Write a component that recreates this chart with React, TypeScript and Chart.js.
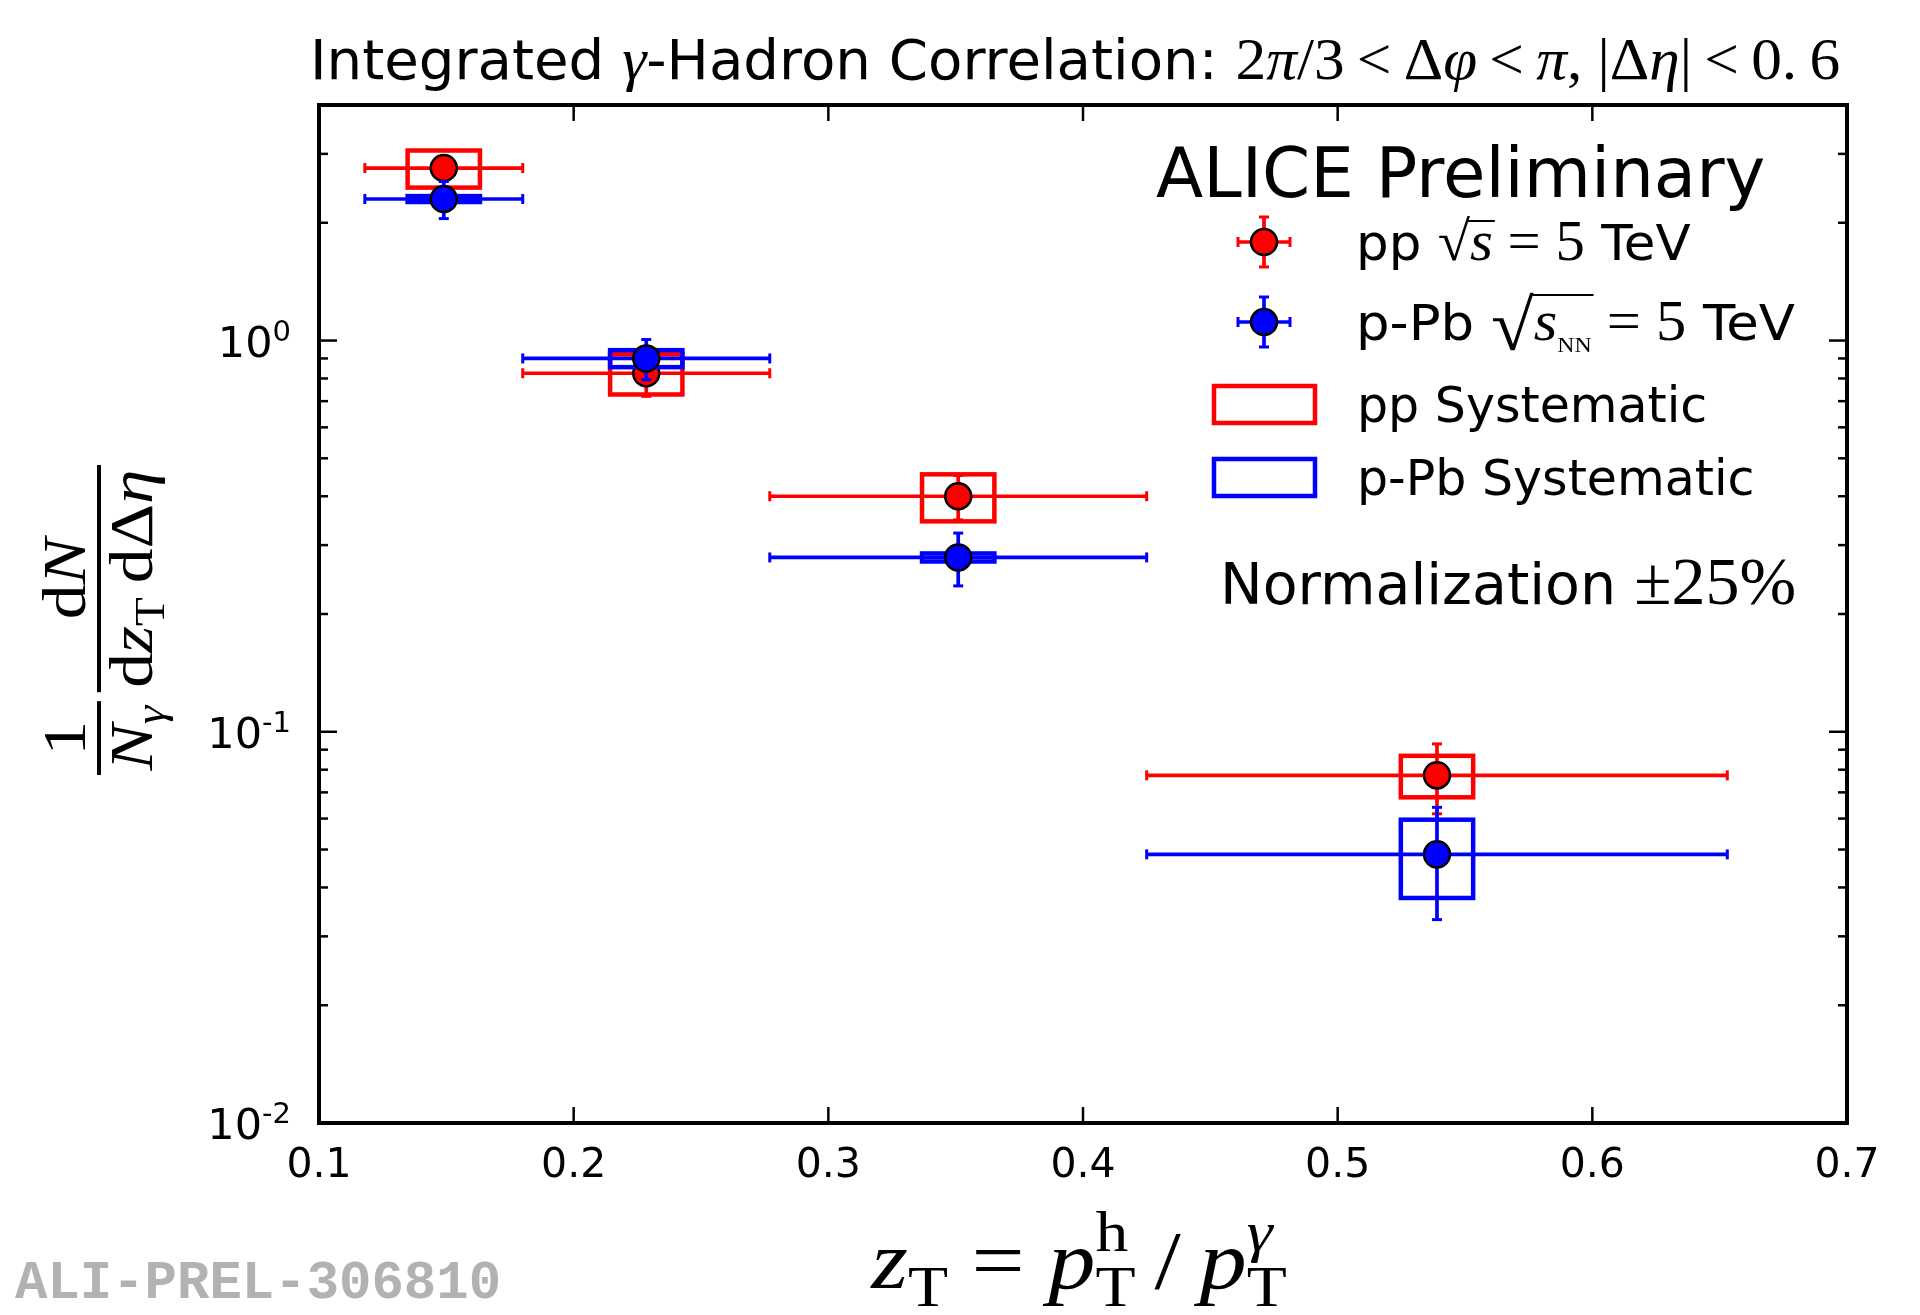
import React, { useEffect, useRef } from "react";
import { Chart, registerables } from "chart.js";

Chart.register(...registerables);

// ---------------- data ----------------
const zT = [0.149, 0.2285, 0.351, 0.539];
const zTLow = [0.118, 0.18, 0.277, 0.425];
const zTHigh = [0.18, 0.277, 0.425, 0.653];

const ppY = [2.76, 0.825, 0.4, 0.0774];
const ppStat = [0.12, 0.105, 0.052, 0.0157];
const ppSys = [0.3, 0.097, 0.055, 0.0094];

const pPbY = [2.3, 0.9, 0.279, 0.0486];
const pPbStat = [0.25, 0.106, 0.043, 0.0155];
const pPbSys = [0.04, 0.045, 0.0066, 0.011];

const sysHalfWidth = 0.0142;

const xTicks = [0.1, 0.2, 0.3, 0.4, 0.5, 0.6, 0.7];
const xTickLabels = ["0.1", "0.2", "0.3", "0.4", "0.5", "0.6", "0.7"];
const yMajor = [0.01, 0.1, 1];
const yMajorExp = ["-2", "-1", "0"];
const yMinor = [
  0.02, 0.03, 0.04, 0.05, 0.06, 0.07, 0.08, 0.09,
  0.2, 0.3, 0.4, 0.5, 0.6, 0.7, 0.8, 0.9,
  2, 3,
];

const RED = "#ff0000";
const BLUE = "#0000ff";

const SANS = '"DejaVu Sans"';
const SERIF = '"Liberation Serif"';

type Sub = { t: string; f: string; dy: number };
type Item = { t: string; f: string; dy?: number; sup?: Sub; sub?: Sub };

function itemWidth(ctx: CanvasRenderingContext2D, it: Item) {
  ctx.font = it.f;
  const w = ctx.measureText(it.t).width;
  let sw = 0;
  if (it.sup) {
    ctx.font = it.sup.f;
    sw = Math.max(sw, ctx.measureText(it.sup.t).width);
  }
  if (it.sub) {
    ctx.font = it.sub.f;
    sw = Math.max(sw, ctx.measureText(it.sub.t).width);
  }
  return w + sw;
}

function drawItems(
  ctx: CanvasRenderingContext2D,
  items: Item[],
  x: number,
  y: number,
  align: "left" | "center" | "right",
  sx = 1
) {
  const widths = items.map((it) => itemWidth(ctx, it));
  const total = widths.reduce((a, b) => a + b, 0) * sx;
  const x0 = align === "left" ? x : align === "center" ? x - total / 2 : x - total;
  const starts: number[] = [];
  ctx.save();
  ctx.translate(x0, y);
  ctx.scale(sx, 1);
  ctx.textAlign = "left";
  ctx.textBaseline = "alphabetic";
  let cx = 0;
  items.forEach((it, i) => {
    starts.push(x0 + cx * sx);
    ctx.font = it.f;
    ctx.fillText(it.t, cx, it.dy || 0);
    const bw = ctx.measureText(it.t).width;
    if (it.sup) {
      ctx.font = it.sup.f;
      ctx.fillText(it.sup.t, cx + bw, it.sup.dy);
    }
    if (it.sub) {
      ctx.font = it.sub.f;
      ctx.fillText(it.sub.t, cx + bw, it.sub.dy);
    }
    cx += widths[i];
  });
  ctx.restore();
  return { starts, widths: widths.map((w) => w * sx), total };
}

function drawMarker(ctx: CanvasRenderingContext2D, x: number, y: number, color: string) {
  ctx.beginPath();
  ctx.arc(x, y, 13, 0, Math.PI * 2);
  ctx.fillStyle = color;
  ctx.fill();
  ctx.lineWidth = 2.5;
  ctx.strokeStyle = "#000";
  ctx.stroke();
}

function line(ctx: CanvasRenderingContext2D, x1: number, y1: number, x2: number, y2: number) {
  ctx.beginPath();
  ctx.moveTo(x1, y1);
  ctx.lineTo(x2, y2);
  ctx.stroke();
}

function drawCross(
  ctx: CanvasRenderingContext2D,
  px: number,
  py: number,
  x1: number,
  x2: number,
  yt: number,
  yb: number,
  color: string
) {
  ctx.strokeStyle = color;
  ctx.lineWidth = 3.7;
  ctx.lineCap = "butt";
  line(ctx, x1, py, x2, py);
  line(ctx, px, yt, px, yb);
  ctx.lineWidth = 3;
  line(ctx, x1, py - 5, x1, py + 5);
  line(ctx, x2, py - 5, x2, py + 5);
  line(ctx, px - 5, yt, px + 5, yt);
  line(ctx, px - 5, yb, px + 5, yb);
}

const seriesInfo = [
  { y: ppY, stat: ppStat, sys: ppSys, color: RED },
  { y: pPbY, stat: pPbStat, sys: pPbSys, color: BLUE },
];

const rich = {
  id: "rich",
  beforeDraw(chart: any) {
    const ctx = chart.ctx as CanvasRenderingContext2D;
    ctx.save();
    ctx.fillStyle = "#fff";
    ctx.fillRect(0, 0, chart.width, chart.height);
    ctx.restore();
  },
  beforeDatasetDraw(chart: any, args: any) {
    const ctx = chart.ctx as CanvasRenderingContext2D;
    const xs = chart.scales.x;
    const ys = chart.scales.y;
    const info = seriesInfo[args.index];
    ctx.save();
    // systematic boxes
    ctx.strokeStyle = info.color;
    ctx.lineWidth = 4.5;
    for (let i = 0; i < zT.length; i++) {
      const l = xs.getPixelForValue(zT[i] - sysHalfWidth);
      const r = xs.getPixelForValue(zT[i] + sysHalfWidth);
      const t = ys.getPixelForValue(info.y[i] + info.sys[i]);
      const b = ys.getPixelForValue(info.y[i] - info.sys[i]);
      ctx.strokeRect(l, t, r - l, b - t);
    }
    // statistical error bars
    for (let i = 0; i < zT.length; i++) {
      const px = xs.getPixelForValue(zT[i]);
      const py = ys.getPixelForValue(info.y[i]);
      drawCross(
        ctx,
        px,
        py,
        xs.getPixelForValue(zTLow[i]),
        xs.getPixelForValue(zTHigh[i]),
        ys.getPixelForValue(info.y[i] + info.stat[i]),
        ys.getPixelForValue(info.y[i] - info.stat[i]),
        info.color
      );
    }
    ctx.restore();
  },
  afterDraw(chart: any) {
    const ctx = chart.ctx as CanvasRenderingContext2D;
    const xs = chart.scales.x;
    const ys = chart.scales.y;
    const { left, right, top, bottom } = chart.chartArea;
    ctx.save();
    ctx.fillStyle = "#000";
    ctx.strokeStyle = "#000";

    // ticks (inward, all four sides)
    ctx.lineWidth = 2.5;
    xTicks.forEach((v) => {
      const p = xs.getPixelForValue(v);
      line(ctx, p, bottom, p, bottom - 16);
      line(ctx, p, top, p, top + 16);
    });
    yMajor.forEach((v) => {
      const p = ys.getPixelForValue(v);
      line(ctx, left, p, left + 18, p);
      line(ctx, right, p, right - 18, p);
    });
    yMinor.forEach((v) => {
      const p = ys.getPixelForValue(v);
      line(ctx, left, p, left + 9, p);
      line(ctx, right, p, right - 9, p);
    });

    // frame
    ctx.lineWidth = 4;
    ctx.strokeRect(left, top, right - left, bottom - top);

    // x tick labels
    ctx.font = `41px ${SANS}`;
    ctx.textAlign = "center";
    ctx.textBaseline = "alphabetic";
    xTicks.forEach((v, i) => {
      ctx.fillText(xTickLabels[i], xs.getPixelForValue(v), 1177);
    });

    // y tick labels 10^k
    yMajor.forEach((v, i) => {
      const p = ys.getPixelForValue(v);
      drawItems(
        ctx,
        [{ t: "10", f: `43px ${SANS}`, dy: 16, sup: { t: yMajorExp[i], f: `29px ${SANS}`, dy: 0 } }],
        291,
        p,
        "right"
      );
    });

    // title
    const sf = `55px ${SANS}`;
    const mf = `60px ${SERIF}`;
    const mi = `italic 60px ${SERIF}`;
    drawItems(
      ctx,
      [
        { t: "Integrated ", f: sf },
        { t: "γ", f: mi },
        { t: "-Hadron Correlation: ", f: sf },
        { t: "2", f: mf },
        { t: "π", f: mi },
        { t: "/3\u2009<\u2009Δ", f: mf },
        { t: "φ", f: mi },
        { t: "\u2009<\u2009", f: mf },
        { t: "π", f: mi },
        { t: ", |Δ", f: mf },
        { t: "η", f: mi },
        { t: "|\u2009<\u20090.\u20096", f: mf },
      ],
      1075,
      79,
      "center",
      1.022
    );

    // ALICE Preliminary
    ctx.font = `69px ${SANS}`;
    ctx.textAlign = "left";
    ctx.fillText("ALICE Preliminary", 1156, 197);

    // legend markers
    const lx = 1264;
    [
      { y: 242, c: RED },
      { y: 322, c: BLUE },
    ].forEach((m) => {
      drawCross(ctx, lx, m.y, lx - 26, lx + 26, m.y - 25, m.y + 25, m.c);
      drawMarker(ctx, lx, m.y, m.c);
    });
    ctx.lineWidth = 4.5;
    ctx.strokeStyle = RED;
    ctx.strokeRect(1214, 386, 101, 37);
    ctx.strokeStyle = BLUE;
    ctx.strokeRect(1214, 459, 101, 37);

    ctx.fillStyle = "#000";
    ctx.strokeStyle = "#000";
    const lf = `49px ${SANS}`;
    const lm = `56px ${SERIF}`;
    const lmi = `italic 56px ${SERIF}`;
    // pp sqrt(s) = 5 TeV
    let r = drawItems(
      ctx,
      [
        { t: "pp ", f: lf },
        { t: "√", f: lm },
        { t: "s", f: lmi },
        { t: " = 5", f: lm },
        { t: " TeV", f: lf },
      ],
      1356,
      260,
      "left",
      1.05
    );
    ctx.lineWidth = 2;
    line(ctx, r.starts[1] + r.widths[1] - 2, 221, r.starts[2] + r.widths[2] + 2, 221);
    // p-Pb sqrt(s_NN) = 5 TeV
    r = drawItems(
      ctx,
      [
        { t: "p-Pb ", f: lf },
        { t: "√", f: `72px ${SERIF}`, dy: 10 },
        { t: "s", f: lmi, sub: { t: "NN", f: `22px ${SERIF}`, dy: 12 } },
        { t: " = 5", f: lm },
        { t: " TeV", f: lf },
      ],
      1356,
      340,
      "left",
      1.08
    );
    line(ctx, r.starts[1] + r.widths[1] - 3, 295, r.starts[2] + r.widths[2] + 2, 295);
    ctx.font = lf;
    ctx.textAlign = "left";
    ctx.fillText("pp Systematic", 1357, 422);
    ctx.fillText("p-Pb Systematic", 1357, 495);

    drawItems(
      ctx,
      [
        { t: "Normalization ", f: `57px ${SANS}` },
        { t: "±25%", f: `68px ${SERIF}` },
      ],
      1220,
      604,
      "left"
    );

    // x-axis label
    const xf = `82px ${SERIF}`;
    const xi = `italic 82px ${SERIF}`;
    const xs2 = `57px ${SERIF}`;
    const xsi = `italic 57px ${SERIF}`;
    drawItems(
      ctx,
      [
        { t: "z", f: xi, sub: { t: "T", f: xs2, dy: 18 } },
        { t: " = ", f: xf },
        { t: "p", f: xi, sup: { t: "h", f: xs2, dy: -37 }, sub: { t: "T", f: xs2, dy: 18 } },
        { t: "\u2009/\u2009", f: xf },
        { t: "p", f: xi, sup: { t: "γ", f: xsi, dy: -37 }, sub: { t: "T", f: xs2, dy: 18 } },
      ],
      1079,
      1288,
      "center",
      1.15
    );

    // y-axis label (rotated)
    ctx.save();
    ctx.translate(99, 620);
    ctx.rotate(-Math.PI / 2);
    ctx.scale(1.12, 1);
    const yf = `62px ${SERIF}`;
    const yi = `italic 62px ${SERIF}`;
    const ysub = `42px ${SERIF}`;
    const ysubi = `italic 42px ${SERIF}`;
    const num1: Item[] = [{ t: "1", f: yf }];
    const den1: Item[] = [{ t: "N", f: yi, sub: { t: "γ", f: ysubi, dy: 12 } }];
    const num2: Item[] = [
      { t: "d", f: yf },
      { t: "N", f: yi },
    ];
    const den2: Item[] = [
      { t: "d", f: yf },
      { t: "z", f: yi, sub: { t: "T", f: ysub, dy: 12 } },
      { t: "\u2009d", f: yf },
      { t: "Δ", f: yf },
      { t: "η", f: yi },
    ];
    const wOf = (its: Item[]) => its.reduce((a, it) => a + itemWidth(ctx, it), 0);
    const w1 = Math.max(wOf(num1), wOf(den1)) + 8;
    const w2 = Math.max(wOf(num2), wOf(den2)) + 8;
    const gap = 8;
    const tot = w1 + gap + w2;
    const s1 = -tot / 2;
    const s2 = s1 + w1 + gap;
    ctx.fillStyle = "#000";
    ctx.fillRect(s1, -2, w1, 4);
    ctx.fillRect(s2, -2, w2, 4);
    drawItems(ctx, num1, s1 + w1 / 2, -14, "center");
    drawItems(ctx, den1, s1 + w1 / 2, 53, "center");
    drawItems(ctx, num2, s2 + w2 / 2, -14, "center");
    drawItems(ctx, den2, s2 + w2 / 2, 53, "center");
    ctx.restore();

    // watermark
    ctx.fillStyle = "#b2b2b2";
    ctx.font = `bold 54px "Liberation Mono"`;
    ctx.textAlign = "left";
    ctx.fillText("ALI-PREL-306810", 15, 1298);

    ctx.restore();
  },
};

export default function App() {
  const ref = useRef<HTMLCanvasElement | null>(null);
  useEffect(() => {
    if (!ref.current) return;
    const chart = new Chart(ref.current, {
      type: "scatter",
      data: {
        datasets: [
          {
            label: "pp",
            data: zT.map((x, i) => ({ x, y: ppY[i] })),
            backgroundColor: RED,
            borderColor: "#000",
            pointRadius: 13,
            pointHoverRadius: 13,
            pointBorderWidth: 2.5,
            order: 1,
          },
          {
            label: "p-Pb",
            data: zT.map((x, i) => ({ x, y: pPbY[i] })),
            backgroundColor: BLUE,
            borderColor: "#000",
            pointRadius: 13,
            pointHoverRadius: 13,
            pointBorderWidth: 2.5,
            order: 0,
          },
        ],
      },
      options: {
        responsive: false,
        animation: false,
        devicePixelRatio: 1,
        layout: { padding: { left: 319, top: 105, right: 73, bottom: 192 } },
        scales: {
          x: { type: "linear", min: 0.1, max: 0.7, display: false },
          y: { type: "logarithmic", min: 0.01, max: 4, display: false },
        },
        plugins: { legend: { display: false }, tooltip: { enabled: false } },
        events: [],
      },
      plugins: [rich],
    });
    return () => chart.destroy();
  }, []);
  return (
    <div style={{ position: "absolute", left: 0, top: 0, width: 1920, height: 1315, background: "#fff" }}>
      <canvas ref={ref} width={1920} height={1315} style={{ display: "block" }} />
    </div>
  );
}
